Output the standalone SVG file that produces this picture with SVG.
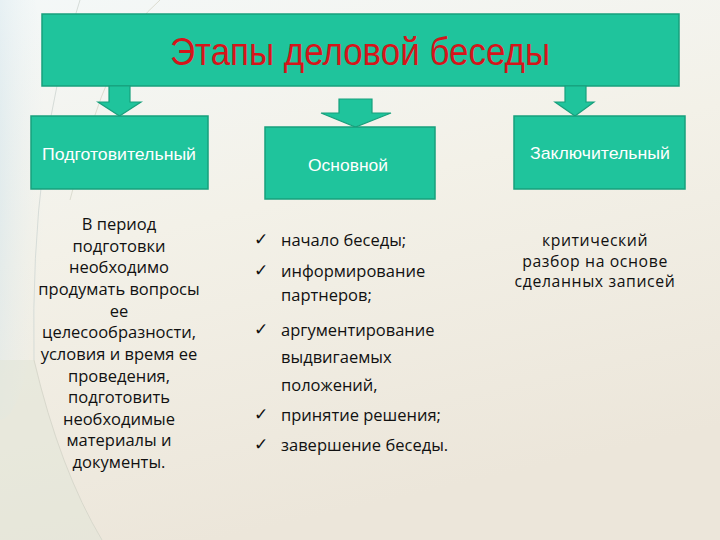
<svg xmlns="http://www.w3.org/2000/svg" width="720" height="540" viewBox="0 0 720 540">
<defs>
<linearGradient id="bg" x1="0" y1="0" x2="0.3" y2="1">
<stop offset="0" stop-color="#f4f8f8"/>
<stop offset="0.45" stop-color="#f3f1e8"/>
<stop offset="1" stop-color="#ece6da"/>
</linearGradient>
<radialGradient id="leftglow" cx="0" cy="0.5" r="1">
<stop offset="0" stop-color="#b8d6e6" stop-opacity="0.95"/>
<stop offset="1" stop-color="#e6f0f2" stop-opacity="0"/>
</radialGradient>
<style>
.box{fill:#1fc49c;stroke:#17a07c;stroke-width:1.5}
.arrow{fill:#1fc49c;stroke:#17a07c;stroke-width:1.2}
.lbl{font-family:"Liberation Sans",Arial,sans-serif;font-size:17px;fill:#ffffff;text-anchor:middle}
.title{font-family:"Liberation Sans",Arial,sans-serif;font-size:38px;fill:#d5151b;text-anchor:middle}
.body{font-family:"Open Sans","DejaVu Sans",sans-serif;font-size:16.5px;fill:#111111}
.rt{font-size:15.8px;letter-spacing:0.6px}
.c{text-anchor:middle}
.chk{font-family:"DejaVu Sans",sans-serif;font-size:17px;fill:#111111}
</style>
</defs>
<rect x="0" y="0" width="720" height="540" fill="url(#bg)"/>
<ellipse cx="0" cy="160" rx="45" ry="260" fill="url(#leftglow)"/>
<path d="M34 360 Q60 470 102 540 L0 540 L0 360 Z" fill="#e3e6d8" opacity="0.6"/>
<path d="M34 360 Q60 470 102 540" fill="none" stroke="#d8d8cc" stroke-width="1"/>
<path d="M80 0 Q30 150 34 360" fill="none" stroke="#d6dcd8" stroke-width="1"/>
<path d="M160 0 Q110 40 70 200" fill="none" stroke="#dcdcd0" stroke-width="1"/>

<g id="title">
<rect class="box" x="42" y="14" width="637" height="72"/>
<text class="title" x="360" y="65" textLength="380" lengthAdjust="spacingAndGlyphs">Этапы деловой беседы</text>
</g>

<g id="connectors">
<polygon class="arrow" points="109,86 130,86 130,102 141,102 119.5,116 98,102 109,102"/>
<polygon class="arrow" points="339,99 372,99 372,113 391,113 355.5,127 321,113 339,113"/>
<polygon class="arrow" points="565,86 586,86 586,102 594,102 575,116 555,102 565,102"/>
</g>

<g id="node-prep">
<rect class="box" x="31" y="116" width="177" height="73"/>
<text class="lbl" x="119" y="160" textLength="154" lengthAdjust="spacingAndGlyphs">Подготовительный</text>
</g>
<g id="node-main">
<rect class="box" x="265" y="127" width="170" height="72"/>
<text class="lbl" x="348" y="171" textLength="80" lengthAdjust="spacingAndGlyphs">Основной</text>
</g>
<g id="node-final">
<rect class="box" x="514" y="116" width="171" height="73"/>
<text class="lbl" x="600" y="159" textLength="140" lengthAdjust="spacingAndGlyphs">Заключительный</text>
</g>

<g id="text-prep" class="body c">
<text x="119" y="230">В период</text>
<text x="119" y="251.6">подготовки</text>
<text x="119" y="273.3">необходимо</text>
<text x="119" y="294.9">продумать вопросы</text>
<text x="119" y="316.5">ее</text>
<text x="119" y="338.2">целесообразности,</text>
<text x="119" y="359.8">условия и время ее</text>
<text x="119" y="381.5">проведения,</text>
<text x="119" y="403">подготовить</text>
<text x="119" y="424.7">необходимые</text>
<text x="119" y="446.4">материалы и</text>
<text x="119" y="468">документы.</text>
</g>

<g id="text-main" class="body">
<text class="chk" x="254" y="245">✓</text>
<text x="281" y="246">начало беседы;</text>
<text class="chk" x="254" y="276">✓</text>
<text x="281" y="277">информирование</text>
<text x="281" y="301">партнеров;</text>
<text class="chk" x="254" y="335">✓</text>
<text x="281" y="336">аргументирование</text>
<text x="281" y="363">выдвигаемых</text>
<text x="281" y="391">положений,</text>
<text class="chk" x="254" y="420">✓</text>
<text x="281" y="421">принятие решения;</text>
<text class="chk" x="254" y="450">✓</text>
<text x="281" y="451">завершение беседы.</text>
</g>

<g id="text-final" class="body c rt">
<text x="595" y="246">критический</text>
<text x="595" y="266.5">разбор на основе</text>
<text x="595" y="287">сделанных записей</text>
</g>
</svg>
